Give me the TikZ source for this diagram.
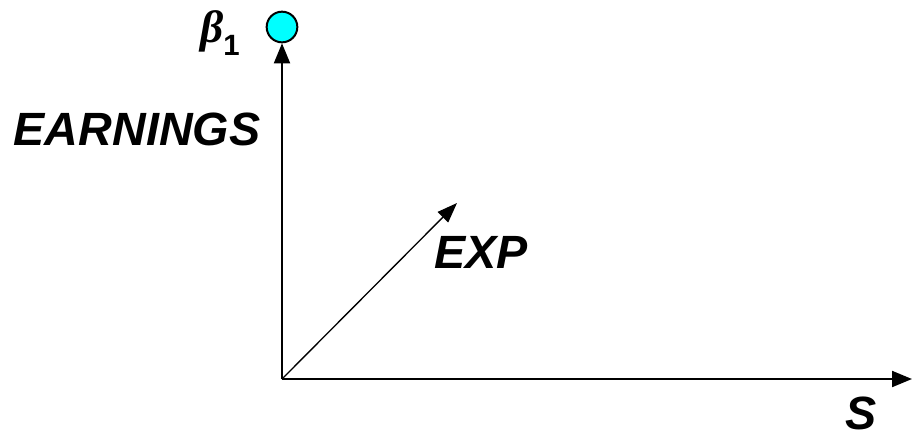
\documentclass[tikz,border=0pt]{standalone}
\usepackage{fontspec}
\setmainfont{Liberation Sans}
\newfontfamily\greekfont{Liberation Serif}
\usetikzlibrary{arrows.meta, positioning}
\definecolor{aqua}{RGB}{0,255,255}
\tikzstyle{axis} = [line width=1.5pt, -{Triangle[length=15pt, width=12pt]}]
\tikzstyle{vector} = [line width=1pt, -{Triangle[length=15pt, width=11pt]}]
\tikzstyle{label} = [inner sep=0pt, font=\fontsize{35}{42}\selectfont\bfseries\itshape]
\tikzstyle{dot} = [circle, draw=black, line width=1.5pt, fill=aqua, minimum size=23pt, inner sep=0pt]

\begin{document}
\begin{tikzpicture}[x=0.75pt, y=-0.75pt]
        \useasboundingbox (0,0) rectangle (914,437);
        \coordinate (origin) at (282,379);
        \coordinate (send) at (912,379);
        \coordinate (xend) at (457,203);
        \node (b1) [dot] at (282,27) {};

        \node (beta) [label] at (220,33) {{\greekfont\fontsize{34}{40}\selectfont β}\raisebox{-0.55ex}{\fontsize{22}{26}\selectfont\upshape 1}};
        \node (earn) [label] at (137,129) {EARNINGS};
        \node (exp) [label] at (481,252) {EXP};
        \node (s) [label] at (861,413) {S};

        \draw [axis] (origin) -- (b1.south);
        \draw [axis] (origin) -- (send);
        \draw [vector] (origin) -- (xend);
    \end{tikzpicture}
\end{document}
